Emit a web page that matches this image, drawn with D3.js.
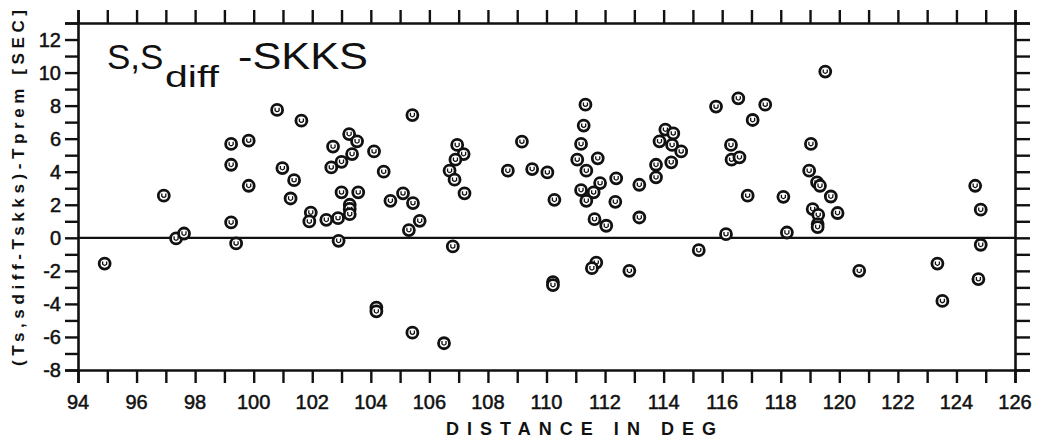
<!DOCTYPE html>
<html>
<head>
<meta charset="utf-8">
<script src="https://cdn.jsdelivr.net/npm/d3@7"></script>
<style>
  body { margin: 0; background: #fff; }
  svg text { font-family: "Liberation Sans", Arial, sans-serif; fill: #111; }
</style>
</head>
<body>
<div id="chart"></div>
<script>
// epicentral distance (deg) and residual (sec)
const distance = [
  94.91, 96.93, 97.35, 97.62, 99.23, 99.23, 99.23, 99.4, 99.83, 99.83,
  100.8, 101.63, 100.98, 101.38, 101.26, 101.95, 101.9, 102.48, 102.88, 102.9,
  102.71, 102.65, 103.0, 103.26, 103.53, 103.36, 103.0, 103.57, 103.28, 103.28,
  103.28, 104.11, 104.44, 104.67, 104.19, 104.19, 105.1, 105.44, 105.67, 105.3,
  105.42, 105.42, 106.5, 106.95, 107.17, 106.89, 106.69, 106.86, 107.2, 106.8,
  109.16, 108.68, 109.51, 110.03, 110.27, 110.22, 110.22,
  111.33, 111.27, 111.18, 111.05, 111.36, 111.75, 111.83, 111.18, 111.61, 111.36,
  112.38, 112.35, 111.64, 112.04, 111.7, 111.55, 112.83, 113.17, 113.17,
  113.74, 113.74, 114.06, 114.33, 113.86, 114.29, 114.6, 114.26, 115.2, 115.79,
  116.55, 117.47, 117.04, 116.3, 116.32, 116.59, 116.87, 118.09, 116.13, 118.21,
  119.52, 119.03, 118.97, 119.24, 119.34, 119.71, 119.94, 119.09, 119.28, 119.26,
  119.26, 120.68, 123.35, 123.52, 124.75, 124.83, 124.83, 124.64
];
const residual = [
  -1.56, 2.55, -0.04, 0.26, 5.68, 4.42, 0.93, -0.34, 5.88, 3.15,
  7.74, 7.09, 4.22, 3.49, 2.38, 1.53, 0.99, 1.09, 1.19, -0.18,
  5.52, 4.26, 4.6, 6.28, 5.84, 5.07, 2.75, 2.75, 2.0, 1.75,
  1.43, 5.23, 4.0, 2.24, -4.22, -4.45, 2.69, 2.1, 1.03, 0.47,
  7.43, -5.74, -6.38, 5.62, 5.07, 4.73, 4.06, 3.52, 2.69, -0.52,
  5.82, 4.06, 4.16, 3.96, 2.3, -2.68, -2.86,
  8.06, 6.79, 5.68, 4.73, 4.06, 4.81, 3.31, 2.89, 2.75, 2.24,
  3.6, 2.18, 1.13, 0.73, -1.5, -1.84, -2.0, 3.21, 1.23,
  4.42, 3.66, 6.55, 6.32, 5.84, 5.62, 5.23, 4.57, -0.75, 7.94,
  8.44, 8.06, 7.13, 5.62, 4.73, 4.87, 2.55, 2.48, 0.22, 0.32,
  10.06, 5.68, 4.06, 3.35, 3.15, 2.5, 1.5, 1.74, 1.39, 0.83,
  0.65, -2.0, -1.56, -3.82, -2.5, -0.42, 1.7, 3.15
];

const xTickLabels = [94, 96, 98, 100, 102, 104, 106, 108, 110, 112, 114, 116, 118, 120, 122, 124, 126];
const yTickLabels = [-8, -6, -4, -2, 0, 2, 4, 6, 8, 10, 12];

const width = 1038, height = 441;
const margin = {top: 23, right: 23, bottom: 71, left: 78};

const svg = d3.select("#chart").append("svg")
    .attr("width", width)
    .attr("height", height);

const x = d3.scaleLinear().domain([94, 126]).range([margin.left, width - margin.right]);
const y = d3.scaleLinear().domain([-8, 13]).range([height - margin.bottom, margin.top]);

const ink = "#111";
const tickLen = 13;

// frame ticks, one per unit on every side (outward)
const xUnits = d3.range(94, 127);
const yUnits = d3.range(-8, 14);

const bottomAxis = d3.axisBottom(x).tickValues(xUnits).tickSize(tickLen).tickFormat("");
const topAxis = d3.axisTop(x).tickValues(xUnits).tickSize(tickLen).tickFormat("");
const leftAxis = d3.axisLeft(y).tickValues(yUnits).tickSize(tickLen).tickFormat("");
const rightAxis = d3.axisRight(y).tickValues(yUnits).tickSize(tickLen + 2).tickFormat("");

function styleAxis(g) {
    g.select(".domain").attr("stroke", ink).attr("stroke-width", 2.6);
    g.selectAll(".tick line").attr("stroke", ink).attr("stroke-width", 2.4);
}

svg.append("g").attr("transform", `translate(0,${y(-8)})`).call(bottomAxis).call(styleAxis);
svg.append("g").attr("transform", `translate(0,${y(13)})`).call(topAxis).call(styleAxis);
svg.append("g").attr("transform", `translate(${x(94)},0)`).call(leftAxis).call(styleAxis);
svg.append("g").attr("transform", `translate(${x(126)},0)`).call(rightAxis).call(styleAxis);

// tick labels
svg.append("g").selectAll("text")
    .data(xTickLabels)
    .join("text")
    .attr("x", d => x(d))
    .attr("y", y(-8) + 39)
    .attr("text-anchor", "middle")
    .attr("font-size", 20)
    .attr("stroke", ink).attr("stroke-width", 0.5)
    .text(d => d);

svg.append("g").selectAll("text")
    .data(yTickLabels)
    .join("text")
    .attr("x", x(94) - 17)
    .attr("y", d => y(d) + 7)
    .attr("text-anchor", "end")
    .attr("font-size", 20)
    .attr("stroke", ink).attr("stroke-width", 0.5)
    .text(d => d);

// zero line
svg.append("line")
    .attr("x1", x(94)).attr("x2", x(126))
    .attr("y1", y(0)).attr("y2", y(0))
    .attr("stroke", ink)
    .attr("stroke-width", 2.2);

// axis titles
svg.append("text")
    .attr("x", 446)
    .attr("y", 435)
    .attr("font-size", 18)
    .attr("font-weight", "bold")
    .attr("textLength", 270)
    .attr("lengthAdjust", "spacing")
    .text("DISTANCE IN DEG");

svg.append("text")
    .attr("transform", "translate(24,366) rotate(-90)")
    .attr("font-size", 17)
    .attr("font-weight", "bold")
    .attr("textLength", 356)
    .attr("lengthAdjust", "spacing")
    .text("(Ts,sdiff-Tskks)-Tprem [SEC]");

// panel title
svg.append("text")
    .attr("x", 107)
    .attr("y", 69)
    .attr("font-size", 35)
    .text("S,S");
svg.append("text")
    .attr("x", 165)
    .attr("y", 87)
    .attr("font-size", 29)
    .attr("textLength", 54)
    .attr("lengthAdjust", "spacingAndGlyphs")
    .text("diff");
svg.append("text")
    .attr("x", 238)
    .attr("y", 69)
    .attr("font-size", 36)
    .attr("textLength", 130)
    .attr("lengthAdjust", "spacingAndGlyphs")
    .text("-SKKS");

// data points
const points = distance.map((d, i) => ({dist: d, res: residual[i]}));

const marks = svg.append("g").selectAll("g")
    .data(points)
    .join("g")
    .attr("transform", d => `translate(${x(d.dist)},${y(d.res)})`);

marks.append("circle")
    .attr("r", 5.5)
    .attr("fill", "#fff")
    .attr("stroke", ink)
    .attr("stroke-width", 2.8);

marks.append("path")
    .attr("d", "M-2,-2.2 L-2,0.6 Q0,3 2,0.6 L2,-2.2")
    .attr("fill", "none")
    .attr("stroke", ink)
    .attr("stroke-width", 1.3);
</script>
</body>
</html>
